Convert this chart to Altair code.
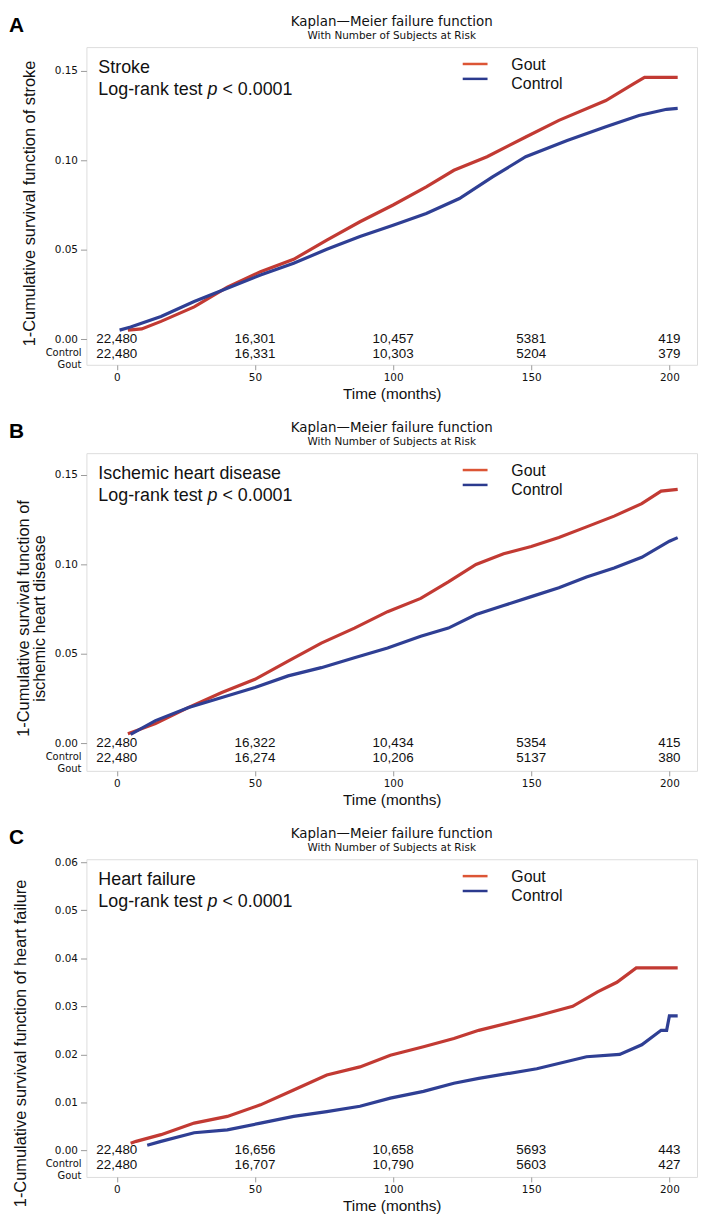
import altair as alt
import pandas as pd

# ---------------- data ----------------
# Panel A: stroke
stroke_gout_t = [4, 9, 16, 28, 40, 52, 64, 76, 88, 100, 112, 122, 134, 148, 160, 177, 187, 191, 203]
stroke_gout_v = [0.0050, 0.0057, 0.0099, 0.0180, 0.0290, 0.0377, 0.0446, 0.0553, 0.0656, 0.0750, 0.0851,
                 0.0944, 0.1020, 0.1130, 0.1223, 0.1334, 0.1427, 0.1464, 0.1464]
stroke_ctrl_t = [1, 5, 16, 28, 40, 52, 64, 76, 88, 100, 112, 124, 136, 148, 163, 177, 189, 199, 203]
stroke_ctrl_v = [0.0050, 0.0067, 0.0126, 0.0210, 0.0284, 0.0358, 0.0424, 0.0502, 0.0573, 0.0637, 0.0702,
                 0.0786, 0.0907, 0.1020, 0.1110, 0.1187, 0.1250, 0.1285, 0.1290]

# Panel B: ischemic heart disease
ihd_gout_t = [4, 14, 26, 38, 50, 62, 74, 86, 98, 110, 120, 130, 140, 150, 160, 170, 180, 190, 197, 203]
ihd_gout_v = [0.0054, 0.0110, 0.0201, 0.0284, 0.0358, 0.0460, 0.0560, 0.0644, 0.0736, 0.0810, 0.0902,
              0.1000, 0.1060, 0.1100, 0.1150, 0.1210, 0.1270, 0.1340, 0.1410, 0.1420]
ihd_ctrl_t = [5, 14, 26, 38, 50, 62, 74, 86, 98, 110, 120, 130, 140, 150, 160, 170, 180, 190, 200, 203]
ihd_ctrl_v = [0.0050, 0.0127, 0.0200, 0.0256, 0.0312, 0.0377, 0.0423, 0.0478, 0.0533, 0.0598, 0.0644,
              0.0720, 0.0770, 0.0820, 0.0870, 0.0930, 0.0980, 0.1040, 0.1130, 0.1150]

# Panel C: heart failure
hf_gout_t = [5, 7, 16, 28, 40, 52, 64, 76, 88, 99, 111, 122, 131, 145, 152, 165, 174, 181, 188, 203]
hf_gout_v = [0.0015, 0.0019, 0.0033, 0.0057, 0.0071, 0.0095, 0.0126, 0.0157, 0.0174, 0.0198, 0.0216,
             0.0233, 0.0250, 0.0270, 0.0280, 0.0300, 0.0330, 0.0350, 0.0380, 0.0380]
hf_ctrl_t = [11, 16, 28, 40, 52, 64, 76, 88, 99, 111, 122, 131, 152, 170, 182, 190, 197, 199, 200, 203]
hf_ctrl_v = [0.0011, 0.0019, 0.0037, 0.0043, 0.0057, 0.0071, 0.0081, 0.0092, 0.0109, 0.0123, 0.0140,
             0.0150, 0.0170, 0.0195, 0.0200, 0.0220, 0.0250, 0.0250, 0.0280, 0.0280]

# Numbers at risk
risk_times = [0, 50, 100, 150, 200]
stroke_risk_1 = ["22,480", "16,301", "10,457", "5381", "419"]
stroke_risk_2 = ["22,480", "16,331", "10,303", "5204", "379"]
ihd_risk_1 = ["22,480", "16,322", "10,434", "5354", "415"]
ihd_risk_2 = ["22,480", "16,274", "10,206", "5137", "380"]
hf_risk_1 = ["22,480", "16,656", "10,658", "5693", "443"]
hf_risk_2 = ["22,480", "16,707", "10,790", "5603", "427"]
risk_row_labels = ["Control", "Gout"]

# Texts
panel_letters = ["A", "B", "C"]
event_names = ["Stroke", "Ischemic heart disease", "Heart failure"]
y_titles = [["1-Cumulative survival function of stroke"],
            ["1-Cumulative survival function of", "ischemic heart disease"],
            ["1-Cumulative survival function of heart failure"]]
main_title = ["Kaplan\u2014Meier failure function"]
sub_title = ["With Number of Subjects at Risk"]
pval_parts = ["Log-rank test", "p", "< 0.0001"]
group_names = ["Gout", "Control"]
x_ticks = [0, 50, 100, 150, 200]
x_title = "Time (months)"
y_ticks_ab = [0.0, 0.05, 0.10, 0.15]
y_ticks_c = [0.0, 0.01, 0.02, 0.03, 0.04, 0.05, 0.06]

# ---------------- style ----------------
W, H = 615, 320
RED, BLUE = "#c23a33", "#2f3f94"
LEG_RED, LEG_BLUE = "#dc5535", "#2b3a8e"
SANS = "Liberation Sans"
TICKF = "DejaVu Sans"
TXT = "#111111"


def one(**cols):
    return pd.DataFrame({k: [v] for k, v in cols.items()})


def panel(letter, event, ytitle, ydomain, yticks, gt, gv, ct, cv, r1, r2, ytx, yty, ytsize):
    curves = pd.DataFrame({
        "t": gt + ct,
        "v": gv + cv,
        "group": [group_names[0]] * len(gt) + [group_names[1]] * len(ct),
    })
    x = alt.X("t:Q",
              scale=alt.Scale(domain=[-11, 210], nice=False, zero=False),
              axis=alt.Axis(values=x_ticks, title=x_title, domain=False, grid=False,
                            tickColor="#9a9a9a", tickSize=5, labelFont=TICKF, labelFontSize=10.5,
                            labelColor=TXT, labelPadding=3, titleFont=SANS, titleFontSize=15.5,
                            titleFontWeight="normal", titleColor=TXT, titlePadding=3))
    y = alt.Y("v:Q",
              scale=alt.Scale(domain=ydomain, nice=False, zero=False),
              axis=alt.Axis(values=yticks, format=".2f", title=ytitle, domain=False, grid=False,
                            tickColor="#9a9a9a", tickSize=6, labelFont=TICKF, labelFontSize=10.5,
                            labelColor=TXT, labelPadding=3, titleFont=SANS, titleFontSize=ytsize,
                            titleFontWeight="normal", titleColor=TXT, titleLineHeight=16,
                            titleAngle=270, titleAlign="center", titleBaseline="middle",
                            titleX=ytx, titleY=yty))
    lines = alt.Chart(curves).mark_line(strokeWidth=3.2).encode(
        x=x, y=y,
        color=alt.Color("group:N", scale=alt.Scale(domain=group_names, range=[RED, BLUE]), legend=None),
    )

    risk = pd.DataFrame({"t": risk_times, "r1": r1, "r2": r2})
    row1 = alt.Chart(risk).mark_text(font=SANS, fontSize=13.5, baseline="middle", color=TXT).encode(
        x="t:Q", y=alt.datum(0), text="r1:N")
    row2 = alt.Chart(risk).mark_text(font=SANS, fontSize=13.5, baseline="middle", color=TXT, dy=15).encode(
        x="t:Q", y=alt.datum(0), text="r2:N")
    lab = one(a=risk_row_labels[0], b=risk_row_labels[1])
    lab1 = alt.Chart(lab).mark_text(font=TICKF, fontSize=10, align="right", baseline="middle",
                                    color=TXT, dy=14).encode(x=alt.value(-5), y=alt.datum(0), text="a:N")
    lab2 = alt.Chart(lab).mark_text(font=TICKF, fontSize=10, align="right", baseline="middle",
                                    color=TXT, dy=26).encode(x=alt.value(-5), y=alt.datum(0), text="b:N")

    ann = one(ev=event, lr=pval_parts[0], p=pval_parts[1], lt=pval_parts[2], L=letter,
              mt=main_title[0], st=sub_title[0], g=group_names[0], c=group_names[1])
    base = alt.Chart(ann)
    t_event = base.mark_text(font=SANS, fontSize=18, align="left", baseline="alphabetic", color=TXT).encode(
        x=alt.value(12), y=alt.value(26), text="ev:N")
    t_lr = base.mark_text(font=SANS, fontSize=18, align="left", baseline="alphabetic", color=TXT).encode(
        x=alt.value(12), y=alt.value(48), text="lr:N")
    t_p = base.mark_text(font=SANS, fontSize=18, fontStyle="italic", align="left", baseline="alphabetic",
                         color=TXT).encode(x=alt.value(122), y=alt.value(48), text="p:N")
    t_lt = base.mark_text(font=SANS, fontSize=18, align="left", baseline="alphabetic", color=TXT).encode(
        x=alt.value(137), y=alt.value(48), text="lt:N")
    t_letter = base.mark_text(font=SANS, fontSize=21, fontWeight="bold", align="left", baseline="alphabetic",
                              color="#000000").encode(x=alt.value(-78), y=alt.value(-15), text="L:N")
    t_main = base.mark_text(font=TICKF, fontSize=13.5, align="center", baseline="middle", color=TXT).encode(
        x=alt.value(W / 2), y=alt.value(-25), text="mt:N")
    t_sub = base.mark_text(font=TICKF, fontSize=10.5, align="center", baseline="middle", color=TXT).encode(
        x=alt.value(W / 2), y=alt.value(-11), text="st:N")

    leg_r = base.mark_rule(strokeWidth=2.5, color=LEG_RED).encode(
        x=alt.value(379), x2=alt.value(404), y=alt.value(17))
    leg_b = base.mark_rule(strokeWidth=2.5, color=LEG_BLUE).encode(
        x=alt.value(379), x2=alt.value(404), y=alt.value(32))
    leg_g = base.mark_text(font=SANS, fontSize=16, align="left", baseline="middle", color=TXT).encode(
        x=alt.value(428), y=alt.value(18), text="g:N")
    leg_c = base.mark_text(font=SANS, fontSize=16, align="left", baseline="middle", color=TXT).encode(
        x=alt.value(428), y=alt.value(37), text="c:N")

    return alt.layer(lines, row1, row2, lab1, lab2, t_event, t_lr, t_p, t_lt, t_letter, t_main, t_sub,
                     leg_r, leg_b, leg_g, leg_c).properties(width=W, height=H)


pa = panel(panel_letters[0], event_names[0], y_titles[0], [-0.0144, 0.1633], y_ticks_ab,
           stroke_gout_t, stroke_gout_v, stroke_ctrl_t, stroke_ctrl_v, stroke_risk_1, stroke_risk_2,
           -57, 157, 16.5)
pb = panel(panel_letters[1], event_names[1], y_titles[1], [-0.0154, 0.1622], y_ticks_ab,
           ihd_gout_t, ihd_gout_v, ihd_ctrl_t, ihd_ctrl_v, ihd_risk_1, ihd_risk_2,
           -63, 166, 16.5)
pc = panel(panel_letters[2], event_names[2], y_titles[2], [-0.0055, 0.0606], y_ticks_c,
           hf_gout_t, hf_gout_v, hf_ctrl_t, hf_ctrl_v, hf_risk_1, hf_risk_2,
           -66, 185, 16.5)

chart = alt.vconcat(pa, pb, pc, spacing=18).properties(
    padding={"left": 0, "top": 2, "right": 2, "bottom": 2}
).configure_view(stroke="#b3b3b3", strokeWidth=1.5).configure(background="white")

chart.save("out.html", embed_options={"renderer": "svg", "actions": False})
